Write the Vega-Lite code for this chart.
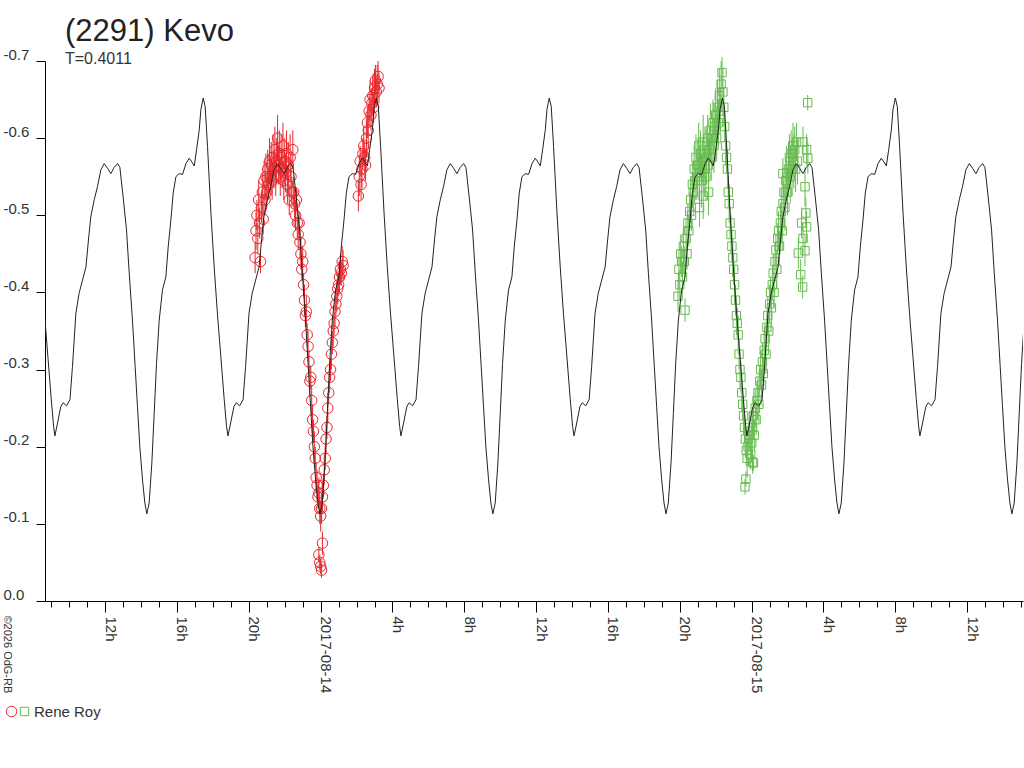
{
"$schema":"https://vega.github.io/schema/vega-lite/v6.json",
"autosize":"none",
"width":978,"height":540,
"padding":{"left":45,"top":61,"right":1,"bottom":167},
"background":"white",
"title":{"text":"(2291) Kevo","subtitle":"T=0.4011","anchor":"start","frame":"group","dx":20,"offset":-21,"font":"Liberation Sans","fontSize":31,"fontWeight":"normal","color":"#222","subtitleFont":"Liberation Sans","subtitleFontSize":16,"subtitleColor":"#333","subtitlePadding":3},
"config":{"view":{"stroke":null},"font":"Liberation Sans","axis":{"grid":false,"labelFont":"Liberation Sans","titleFont":"Liberation Sans","domainColor":"#000","tickColor":"#000","labelColor":"#333"}},
"datasets":{
"model":[
{"t":-15.38,"v":-0.373},{"t":-15.19,"v":-0.317},{"t":-15.0,"v":-0.261},{"t":-14.87,"v":-0.226},
{"t":-14.80,"v":-0.214},{"t":-14.65,"v":-0.231},{"t":-14.47,"v":-0.252},{"t":-14.34,"v":-0.257},{"t":-14.15,"v":-0.253},{"t":-13.96,"v":-0.261},{"t":-13.82,"v":-0.304},{"t":-13.63,"v":-0.373},{"t":-13.45,"v":-0.399},{"t":-13.26,"v":-0.416},{"t":-13.07,"v":-0.433},{"t":-12.93,"v":-0.468},{"t":-12.80,"v":-0.498},{"t":-12.61,"v":-0.520},{"t":-12.43,"v":-0.537},{"t":-12.24,"v":-0.559},{"t":-12.05,"v":-0.567},{"t":-11.87,"v":-0.561},{"t":-11.68,"v":-0.554},{"t":-11.50,"v":-0.562},{"t":-11.31,"v":-0.567},{"t":-11.18,"v":-0.562},{"t":-11.00,"v":-0.524},{"t":-10.81,"v":-0.481},{"t":-10.66,"v":-0.425},{"t":-10.48,"v":-0.364},{"t":-10.33,"v":-0.304},{"t":-10.20,"v":-0.252},{"t":-10.07,"v":-0.200},{"t":-9.92,"v":-0.157},{"t":-9.79,"v":-0.127},{"t":-9.68,"v":-0.113},{"t":-9.55,"v":-0.127},{"t":-9.40,"v":-0.179},{"t":-9.27,"v":-0.243},{"t":-9.14,"v":-0.308},{"t":-8.99,"v":-0.364},{"t":-8.81,"v":-0.403},{"t":-8.62,"v":-0.420},{"t":-8.49,"v":-0.459},{"t":-8.34,"v":-0.494},{"t":-8.21,"v":-0.529},{"t":-8.06,"v":-0.550},{"t":-7.88,"v":-0.554},{"t":-7.69,"v":-0.553},{"t":-7.50,"v":-0.567},{"t":-7.32,"v":-0.574},{"t":-7.17,"v":-0.569},{"t":-7.04,"v":-0.564},{"t":-6.91,"v":-0.585},{"t":-6.76,"v":-0.611},{"t":-6.67,"v":-0.637},{"t":-6.54,"v":-0.652},{"t":-6.43,"v":-0.641},{"t":-6.30,"v":-0.589},{"t":-6.11,"v":-0.503},{"t":-5.93,"v":-0.433},{"t":-5.75,"v":-0.373},{"t":-5.56,"v":-0.317},{"t":-5.37,"v":-0.261},{"t":-5.24,"v":-0.226},
{"t":-5.16,"v":-0.214},{"t":-5.01,"v":-0.231},{"t":-4.83,"v":-0.252},{"t":-4.70,"v":-0.257},{"t":-4.51,"v":-0.253},{"t":-4.32,"v":-0.261},{"t":-4.18,"v":-0.304},{"t":-3.99,"v":-0.373},{"t":-3.81,"v":-0.399},{"t":-3.62,"v":-0.416},{"t":-3.43,"v":-0.433},{"t":-3.29,"v":-0.468},{"t":-3.16,"v":-0.498},{"t":-2.97,"v":-0.520},{"t":-2.79,"v":-0.537},{"t":-2.60,"v":-0.559},{"t":-2.41,"v":-0.567},{"t":-2.23,"v":-0.561},{"t":-2.04,"v":-0.554},{"t":-1.86,"v":-0.562},{"t":-1.67,"v":-0.567},{"t":-1.54,"v":-0.562},{"t":-1.36,"v":-0.524},{"t":-1.17,"v":-0.481},{"t":-1.02,"v":-0.425},{"t":-0.84,"v":-0.364},{"t":-0.69,"v":-0.304},{"t":-0.56,"v":-0.252},{"t":-0.43,"v":-0.200},{"t":-0.28,"v":-0.157},{"t":-0.15,"v":-0.127},{"t":-0.04,"v":-0.113},{"t":0.09,"v":-0.127},{"t":0.24,"v":-0.179},{"t":0.37,"v":-0.243},{"t":0.50,"v":-0.308},{"t":0.65,"v":-0.364},{"t":0.83,"v":-0.403},{"t":1.02,"v":-0.420},{"t":1.15,"v":-0.459},{"t":1.30,"v":-0.494},{"t":1.43,"v":-0.529},{"t":1.58,"v":-0.550},{"t":1.76,"v":-0.554},{"t":1.95,"v":-0.553},{"t":2.14,"v":-0.567},{"t":2.32,"v":-0.574},{"t":2.47,"v":-0.569},{"t":2.60,"v":-0.564},{"t":2.73,"v":-0.585},{"t":2.88,"v":-0.611},{"t":2.97,"v":-0.637},{"t":3.10,"v":-0.652},{"t":3.21,"v":-0.641},{"t":3.34,"v":-0.589},{"t":3.53,"v":-0.503},{"t":3.71,"v":-0.433},{"t":3.89,"v":-0.373},{"t":4.08,"v":-0.317},{"t":4.27,"v":-0.261},{"t":4.40,"v":-0.226},
{"t":4.47,"v":-0.214},{"t":4.62,"v":-0.231},{"t":4.80,"v":-0.252},{"t":4.93,"v":-0.257},{"t":5.12,"v":-0.253},{"t":5.31,"v":-0.261},{"t":5.45,"v":-0.304},{"t":5.64,"v":-0.373},{"t":5.82,"v":-0.399},{"t":6.01,"v":-0.416},{"t":6.20,"v":-0.433},{"t":6.34,"v":-0.468},{"t":6.47,"v":-0.498},{"t":6.66,"v":-0.520},{"t":6.84,"v":-0.537},{"t":7.03,"v":-0.559},{"t":7.22,"v":-0.567},{"t":7.40,"v":-0.561},{"t":7.59,"v":-0.554},{"t":7.77,"v":-0.562},{"t":7.96,"v":-0.567},{"t":8.09,"v":-0.562},{"t":8.27,"v":-0.524},{"t":8.46,"v":-0.481},{"t":8.61,"v":-0.425},{"t":8.79,"v":-0.364},{"t":8.94,"v":-0.304},{"t":9.07,"v":-0.252},{"t":9.20,"v":-0.200},{"t":9.35,"v":-0.157},{"t":9.48,"v":-0.127},{"t":9.59,"v":-0.113},{"t":9.72,"v":-0.127},{"t":9.87,"v":-0.179},{"t":10.00,"v":-0.243},{"t":10.13,"v":-0.308},{"t":10.28,"v":-0.364},{"t":10.46,"v":-0.403},{"t":10.65,"v":-0.420},{"t":10.78,"v":-0.459},{"t":10.93,"v":-0.494},{"t":11.06,"v":-0.529},{"t":11.21,"v":-0.550},{"t":11.39,"v":-0.554},{"t":11.58,"v":-0.553},{"t":11.77,"v":-0.567},{"t":11.95,"v":-0.574},{"t":12.10,"v":-0.569},{"t":12.23,"v":-0.564},{"t":12.36,"v":-0.585},{"t":12.51,"v":-0.611},{"t":12.60,"v":-0.637},{"t":12.73,"v":-0.652},{"t":12.84,"v":-0.641},{"t":12.97,"v":-0.589},{"t":13.16,"v":-0.503},{"t":13.34,"v":-0.433},{"t":13.52,"v":-0.373},{"t":13.71,"v":-0.317},{"t":13.90,"v":-0.261},{"t":14.03,"v":-0.226},
{"t":14.11,"v":-0.214},{"t":14.26,"v":-0.231},{"t":14.44,"v":-0.252},{"t":14.57,"v":-0.257},{"t":14.76,"v":-0.253},{"t":14.95,"v":-0.261},{"t":15.09,"v":-0.304},{"t":15.28,"v":-0.373},{"t":15.46,"v":-0.399},{"t":15.65,"v":-0.416},{"t":15.84,"v":-0.433},{"t":15.98,"v":-0.468},{"t":16.11,"v":-0.498},{"t":16.30,"v":-0.520},{"t":16.48,"v":-0.537},{"t":16.67,"v":-0.559},{"t":16.86,"v":-0.567},{"t":17.04,"v":-0.561},{"t":17.23,"v":-0.554},{"t":17.41,"v":-0.562},{"t":17.60,"v":-0.567},{"t":17.73,"v":-0.562},{"t":17.91,"v":-0.524},{"t":18.10,"v":-0.481},{"t":18.25,"v":-0.425},{"t":18.43,"v":-0.364},{"t":18.58,"v":-0.304},{"t":18.71,"v":-0.252},{"t":18.84,"v":-0.200},{"t":18.99,"v":-0.157},{"t":19.12,"v":-0.127},{"t":19.23,"v":-0.113},{"t":19.36,"v":-0.127},{"t":19.51,"v":-0.179},{"t":19.64,"v":-0.243},{"t":19.77,"v":-0.308},{"t":19.92,"v":-0.364},{"t":20.10,"v":-0.403},{"t":20.29,"v":-0.420},{"t":20.42,"v":-0.459},{"t":20.57,"v":-0.494},{"t":20.70,"v":-0.529},{"t":20.85,"v":-0.550},{"t":21.03,"v":-0.554},{"t":21.22,"v":-0.553},{"t":21.41,"v":-0.567},{"t":21.59,"v":-0.574},{"t":21.74,"v":-0.569},{"t":21.87,"v":-0.564},{"t":22.00,"v":-0.585},{"t":22.15,"v":-0.611},{"t":22.24,"v":-0.637},{"t":22.37,"v":-0.652},{"t":22.48,"v":-0.641},{"t":22.61,"v":-0.589},{"t":22.80,"v":-0.503},{"t":22.98,"v":-0.433},{"t":23.16,"v":-0.373},{"t":23.35,"v":-0.317},{"t":23.54,"v":-0.261},{"t":23.67,"v":-0.226},
{"t":23.74,"v":-0.214},{"t":23.89,"v":-0.231},{"t":24.07,"v":-0.252},{"t":24.20,"v":-0.257},{"t":24.39,"v":-0.253},{"t":24.58,"v":-0.261},{"t":24.72,"v":-0.304},{"t":24.91,"v":-0.373},{"t":25.09,"v":-0.399},{"t":25.28,"v":-0.416},{"t":25.47,"v":-0.433},{"t":25.61,"v":-0.468},{"t":25.74,"v":-0.498},{"t":25.93,"v":-0.520},{"t":26.11,"v":-0.537},{"t":26.30,"v":-0.559},{"t":26.49,"v":-0.567},{"t":26.67,"v":-0.561},{"t":26.86,"v":-0.554},{"t":27.04,"v":-0.562},{"t":27.23,"v":-0.567},{"t":27.36,"v":-0.562},{"t":27.54,"v":-0.524},{"t":27.73,"v":-0.481},{"t":27.88,"v":-0.425},{"t":28.06,"v":-0.364},{"t":28.21,"v":-0.304},{"t":28.34,"v":-0.252},{"t":28.47,"v":-0.200},{"t":28.62,"v":-0.157},{"t":28.75,"v":-0.127},{"t":28.86,"v":-0.113},{"t":28.99,"v":-0.127},{"t":29.14,"v":-0.179},{"t":29.27,"v":-0.243},{"t":29.40,"v":-0.308},{"t":29.55,"v":-0.364},{"t":29.73,"v":-0.403},{"t":29.92,"v":-0.420},{"t":30.05,"v":-0.459},{"t":30.20,"v":-0.494},{"t":30.33,"v":-0.529},{"t":30.48,"v":-0.550},{"t":30.66,"v":-0.554},{"t":30.85,"v":-0.553},{"t":31.04,"v":-0.567},{"t":31.22,"v":-0.574},{"t":31.37,"v":-0.569},{"t":31.50,"v":-0.564},{"t":31.63,"v":-0.585},{"t":31.78,"v":-0.611},{"t":31.87,"v":-0.637},{"t":32.00,"v":-0.652},{"t":32.11,"v":-0.641},{"t":32.24,"v":-0.589},{"t":32.43,"v":-0.503},{"t":32.61,"v":-0.433},{"t":32.79,"v":-0.373},{"t":32.98,"v":-0.317},{"t":33.17,"v":-0.261},{"t":33.30,"v":-0.226},
{"t":33.37,"v":-0.214},{"t":33.52,"v":-0.231},{"t":33.70,"v":-0.252},{"t":33.83,"v":-0.257},{"t":34.02,"v":-0.253},{"t":34.21,"v":-0.261},{"t":34.35,"v":-0.304},{"t":34.54,"v":-0.373},{"t":34.72,"v":-0.399},{"t":34.91,"v":-0.416},{"t":35.10,"v":-0.433},{"t":35.24,"v":-0.468},{"t":35.37,"v":-0.498},{"t":35.56,"v":-0.520},{"t":35.74,"v":-0.537},{"t":35.93,"v":-0.559},{"t":36.12,"v":-0.567},{"t":36.30,"v":-0.561},{"t":36.49,"v":-0.554},{"t":36.67,"v":-0.562},{"t":36.86,"v":-0.567},{"t":36.99,"v":-0.562},{"t":37.17,"v":-0.524},{"t":37.36,"v":-0.481},{"t":37.51,"v":-0.425},{"t":37.69,"v":-0.364},{"t":37.84,"v":-0.304},{"t":37.97,"v":-0.252},{"t":38.10,"v":-0.200},{"t":38.25,"v":-0.157},{"t":38.38,"v":-0.127},{"t":38.49,"v":-0.113},{"t":38.62,"v":-0.127},{"t":38.77,"v":-0.179},{"t":38.90,"v":-0.243},{"t":39.03,"v":-0.308},{"t":39.18,"v":-0.364}
],
"obs":[
{"t":-3.65,"v":-0.445,"e":0.02,"s":"A"},{"t":-3.60,"v":-0.48,"e":0.025,"s":"A"},{"t":-3.55,"v":-0.50,"e":0.02,"s":"A"},{"t":-3.50,"v":-0.47,"e":0.02,"s":"A"},{"t":-3.45,"v":-0.52,"e":0.025,"s":"A"},{"t":-3.40,"v":-0.49,"e":0.02,"s":"A"},{"t":-3.35,"v":-0.44,"e":0.015,"s":"A"},{"t":-3.30,"v":-0.51,"e":0.02,"s":"A"},{"t":-3.25,"v":-0.53,"e":0.025,"s":"A"},{"t":-3.20,"v":-0.495,"e":0.02,"s":"A"},{"t":-3.15,"v":-0.545,"e":0.025,"s":"A"},{"t":-3.10,"v":-0.52,"e":0.02,"s":"A"},{"t":-3.05,"v":-0.55,"e":0.03,"s":"A"},{"t":-3.00,"v":-0.53,"e":0.02,"s":"A"},{"t":-2.95,"v":-0.56,"e":0.025,"s":"A"},{"t":-2.90,"v":-0.54,"e":0.02,"s":"A"},{"t":-2.85,"v":-0.57,"e":0.03,"s":"A"},{"t":-2.80,"v":-0.55,"e":0.025,"s":"A"},{"t":-2.75,"v":-0.565,"e":0.03,"s":"A"},{"t":-2.70,"v":-0.545,"e":0.025,"s":"A"},{"t":-2.65,"v":-0.575,"e":0.03,"s":"A"},{"t":-2.60,"v":-0.56,"e":0.025,"s":"A"},{"t":-2.55,"v":-0.585,"e":0.03,"s":"A"},{"t":-2.50,"v":-0.55,"e":0.025,"s":"A"},{"t":-2.45,"v":-0.57,"e":0.03,"s":"A"},{"t":-2.40,"v":-0.60,"e":0.03,"s":"A"},{"t":-2.35,"v":-0.565,"e":0.025,"s":"A"},{"t":-2.30,"v":-0.58,"e":0.03,"s":"A"},{"t":-2.25,"v":-0.55,"e":0.025,"s":"A"},{"t":-2.20,"v":-0.575,"e":0.03,"s":"A"},{"t":-2.15,"v":-0.56,"e":0.025,"s":"A"},{"t":-2.10,"v":-0.59,"e":0.03,"s":"A"},{"t":-2.05,"v":-0.545,"e":0.025,"s":"A"},{"t":-2.00,"v":-0.57,"e":0.03,"s":"A"},{"t":-1.95,"v":-0.555,"e":0.025,"s":"A"},{"t":-1.90,"v":-0.58,"e":0.03,"s":"A"},{"t":-1.85,"v":-0.54,"e":0.025,"s":"A"},{"t":-1.80,"v":-0.565,"e":0.03,"s":"A"},{"t":-1.75,"v":-0.52,"e":0.02,"s":"A"},{"t":-1.70,"v":-0.575,"e":0.03,"s":"A"},{"t":-1.65,"v":-0.55,"e":0.025,"s":"A"},{"t":-1.60,"v":-0.53,"e":0.02,"s":"A"},{"t":-1.55,"v":-0.585,"e":0.025,"s":"A"},
{"t":-1.50,"v":-0.53,"e":0.02,"s":"A"},{"t":-1.45,"v":-0.515,"e":0.02,"s":"A"},{"t":-1.40,"v":-0.50,"e":0.02,"s":"A"},{"t":-1.35,"v":-0.52,"e":0.015,"s":"A"},{"t":-1.30,"v":-0.49,"e":0.02,"s":"A"},{"t":-1.25,"v":-0.475,"e":0.02,"s":"A"},{"t":-1.20,"v":-0.49,"e":0.015,"s":"A"},{"t":-1.15,"v":-0.465,"e":0.02,"s":"A"},{"t":-1.10,"v":-0.45,"e":0.02,"s":"A"},{"t":-1.05,"v":-0.43,"e":0.015,"s":"A"},{"t":-1.00,"v":-0.44,"e":0.02,"s":"A"},{"t":-0.95,"v":-0.41,"e":0.015,"s":"A"},{"t":-0.90,"v":-0.39,"e":0.02,"s":"A"},{"t":-0.85,"v":-0.37,"e":0.015,"s":"A"},{"t":-0.80,"v":-0.375,"e":0.02,"s":"A"},{"t":-0.75,"v":-0.345,"e":0.015,"s":"A"},{"t":-0.70,"v":-0.33,"e":0.02,"s":"A"},{"t":-0.65,"v":-0.31,"e":0.015,"s":"A"},{"t":-0.60,"v":-0.285,"e":0.02,"s":"A"},{"t":-0.55,"v":-0.29,"e":0.015,"s":"A"},{"t":-0.50,"v":-0.26,"e":0.02,"s":"A"},{"t":-0.45,"v":-0.235,"e":0.02,"s":"A"},{"t":-0.40,"v":-0.22,"e":0.015,"s":"A"},{"t":-0.35,"v":-0.20,"e":0.02,"s":"A"},{"t":-0.30,"v":-0.185,"e":0.015,"s":"A"},{"t":-0.25,"v":-0.16,"e":0.02,"s":"A"},{"t":-0.20,"v":-0.15,"e":0.02,"s":"A"},{"t":-0.15,"v":-0.135,"e":0.015,"s":"A"},{"t":-0.10,"v":-0.14,"e":0.02,"s":"A"},{"t":-0.05,"v":-0.12,"e":0.02,"s":"A"},{"t":0.00,"v":-0.11,"e":0.02,"s":"A"},
{"t":-0.10,"v":-0.06,"e":0.01,"s":"A"},{"t":-0.05,"v":-0.05,"e":0.01,"s":"A"},{"t":0.00,"v":-0.045,"e":0.01,"s":"A"},{"t":0.05,"v":-0.04,"e":0.01,"s":"A"},{"t":0.10,"v":-0.075,"e":0.015,"s":"A"},
{"t":0.05,"v":-0.12,"e":0.02,"s":"A"},{"t":0.10,"v":-0.135,"e":0.02,"s":"A"},{"t":0.15,"v":-0.15,"e":0.015,"s":"A"},{"t":0.20,"v":-0.17,"e":0.02,"s":"A"},{"t":0.25,"v":-0.185,"e":0.015,"s":"A"},{"t":0.30,"v":-0.21,"e":0.02,"s":"A"},{"t":0.35,"v":-0.225,"e":0.015,"s":"A"},{"t":0.40,"v":-0.25,"e":0.02,"s":"A"},{"t":0.45,"v":-0.27,"e":0.015,"s":"A"},{"t":0.50,"v":-0.29,"e":0.02,"s":"A"},{"t":0.55,"v":-0.30,"e":0.015,"s":"A"},{"t":0.60,"v":-0.32,"e":0.02,"s":"A"},{"t":0.65,"v":-0.335,"e":0.015,"s":"A"},{"t":0.70,"v":-0.35,"e":0.02,"s":"A"},{"t":0.75,"v":-0.36,"e":0.015,"s":"A"},{"t":0.80,"v":-0.375,"e":0.02,"s":"A"},{"t":0.85,"v":-0.385,"e":0.015,"s":"A"},{"t":0.90,"v":-0.395,"e":0.02,"s":"A"},{"t":0.95,"v":-0.405,"e":0.02,"s":"A"},{"t":1.00,"v":-0.41,"e":0.015,"s":"A"},{"t":1.05,"v":-0.42,"e":0.02,"s":"A"},{"t":1.10,"v":-0.43,"e":0.02,"s":"A"},{"t":1.15,"v":-0.425,"e":0.015,"s":"A"},{"t":1.20,"v":-0.44,"e":0.02,"s":"A"},{"t":1.25,"v":-0.435,"e":0.02,"s":"A"},
{"t":2.10,"v":-0.525,"e":0.02,"s":"A"},{"t":2.15,"v":-0.55,"e":0.025,"s":"A"},{"t":2.20,"v":-0.57,"e":0.02,"s":"A"},{"t":2.25,"v":-0.54,"e":0.02,"s":"A"},{"t":2.30,"v":-0.56,"e":0.025,"s":"A"},{"t":2.35,"v":-0.58,"e":0.02,"s":"A"},{"t":2.40,"v":-0.59,"e":0.025,"s":"A"},{"t":2.45,"v":-0.575,"e":0.02,"s":"A"},{"t":2.50,"v":-0.565,"e":0.02,"s":"A"},{"t":2.55,"v":-0.60,"e":0.025,"s":"A"},{"t":2.60,"v":-0.62,"e":0.02,"s":"A"},{"t":2.65,"v":-0.61,"e":0.025,"s":"A"},{"t":2.70,"v":-0.635,"e":0.02,"s":"A"},{"t":2.75,"v":-0.65,"e":0.025,"s":"A"},{"t":2.80,"v":-0.63,"e":0.02,"s":"A"},{"t":2.85,"v":-0.645,"e":0.02,"s":"A"},{"t":2.90,"v":-0.655,"e":0.025,"s":"A"},{"t":2.95,"v":-0.64,"e":0.02,"s":"A"},{"t":3.00,"v":-0.665,"e":0.025,"s":"A"},{"t":3.05,"v":-0.675,"e":0.02,"s":"A"},{"t":3.10,"v":-0.66,"e":0.02,"s":"A"},{"t":3.15,"v":-0.67,"e":0.025,"s":"A"},{"t":3.20,"v":-0.68,"e":0.02,"s":"A"},{"t":3.25,"v":-0.665,"e":0.02,"s":"A"},
{"t":19.90,"v":-0.395,"e":0.02,"s":"B"},{"t":19.95,"v":-0.43,"e":0.025,"s":"B"},{"t":20.00,"v":-0.41,"e":0.02,"s":"B"},{"t":20.05,"v":-0.45,"e":0.025,"s":"B"},{"t":20.10,"v":-0.44,"e":0.02,"s":"B"},{"t":20.15,"v":-0.42,"e":0.02,"s":"B"},{"t":20.20,"v":-0.46,"e":0.025,"s":"B"},{"t":20.25,"v":-0.44,"e":0.02,"s":"B"},{"t":20.29,"v":-0.377,"e":0.015,"s":"B"},{"t":20.35,"v":-0.47,"e":0.025,"s":"B"},{"t":20.40,"v":-0.45,"e":0.02,"s":"B"},{"t":20.45,"v":-0.49,"e":0.025,"s":"B"},{"t":20.50,"v":-0.48,"e":0.02,"s":"B"},{"t":20.55,"v":-0.505,"e":0.025,"s":"B"},{"t":20.60,"v":-0.52,"e":0.03,"s":"B"},{"t":20.65,"v":-0.50,"e":0.02,"s":"B"},{"t":20.70,"v":-0.54,"e":0.03,"s":"B"},{"t":20.75,"v":-0.53,"e":0.025,"s":"B"},{"t":20.80,"v":-0.56,"e":0.03,"s":"B"},{"t":20.85,"v":-0.545,"e":0.025,"s":"B"},{"t":20.90,"v":-0.575,"e":0.03,"s":"B"},{"t":20.95,"v":-0.55,"e":0.03,"s":"B"},
{"t":21.00,"v":-0.565,"e":0.035,"s":"B"},{"t":21.05,"v":-0.59,"e":0.03,"s":"B"},{"t":21.10,"v":-0.51,"e":0.025,"s":"B"},{"t":21.10,"v":-0.555,"e":0.035,"s":"B"},{"t":21.15,"v":-0.58,"e":0.03,"s":"B"},{"t":21.20,"v":-0.545,"e":0.035,"s":"B"},{"t":21.25,"v":-0.57,"e":0.03,"s":"B"},{"t":21.30,"v":-0.525,"e":0.03,"s":"B"},{"t":21.30,"v":-0.595,"e":0.035,"s":"B"},{"t":21.35,"v":-0.56,"e":0.03,"s":"B"},{"t":21.40,"v":-0.58,"e":0.035,"s":"B"},{"t":21.45,"v":-0.55,"e":0.03,"s":"B"},{"t":21.50,"v":-0.575,"e":0.035,"s":"B"},{"t":21.55,"v":-0.60,"e":0.03,"s":"B"},{"t":21.60,"v":-0.53,"e":0.03,"s":"B"},{"t":21.60,"v":-0.565,"e":0.035,"s":"B"},{"t":21.65,"v":-0.585,"e":0.03,"s":"B"},{"t":21.70,"v":-0.61,"e":0.035,"s":"B"},{"t":21.75,"v":-0.575,"e":0.03,"s":"B"},{"t":21.80,"v":-0.60,"e":0.035,"s":"B"},{"t":21.85,"v":-0.62,"e":0.03,"s":"B"},{"t":21.90,"v":-0.59,"e":0.035,"s":"B"},{"t":21.95,"v":-0.615,"e":0.03,"s":"B"},{"t":22.00,"v":-0.63,"e":0.035,"s":"B"},{"t":22.05,"v":-0.60,"e":0.03,"s":"B"},{"t":22.10,"v":-0.64,"e":0.035,"s":"B"},{"t":22.15,"v":-0.62,"e":0.03,"s":"B"},{"t":22.20,"v":-0.655,"e":0.035,"s":"B"},{"t":22.25,"v":-0.635,"e":0.03,"s":"B"},{"t":22.30,"v":-0.67,"e":0.03,"s":"B"},{"t":22.35,"v":-0.685,"e":0.02,"s":"B"},{"t":22.40,"v":-0.66,"e":0.03,"s":"B"},{"t":22.45,"v":-0.64,"e":0.025,"s":"B"},
{"t":22.50,"v":-0.615,"e":0.02,"s":"B"},{"t":22.55,"v":-0.59,"e":0.025,"s":"B"},{"t":22.60,"v":-0.575,"e":0.02,"s":"B"},{"t":22.65,"v":-0.56,"e":0.025,"s":"B"},{"t":22.70,"v":-0.53,"e":0.02,"s":"B"},{"t":22.75,"v":-0.515,"e":0.025,"s":"B"},{"t":22.80,"v":-0.49,"e":0.02,"s":"B"},{"t":22.85,"v":-0.475,"e":0.025,"s":"B"},{"t":22.90,"v":-0.46,"e":0.02,"s":"B"},{"t":22.95,"v":-0.445,"e":0.025,"s":"B"},{"t":23.00,"v":-0.43,"e":0.02,"s":"B"},{"t":23.05,"v":-0.41,"e":0.025,"s":"B"},{"t":23.10,"v":-0.39,"e":0.02,"s":"B"},{"t":23.15,"v":-0.37,"e":0.025,"s":"B"},{"t":23.20,"v":-0.36,"e":0.02,"s":"B"},{"t":23.25,"v":-0.345,"e":0.025,"s":"B"},{"t":23.30,"v":-0.32,"e":0.02,"s":"B"},{"t":23.35,"v":-0.30,"e":0.025,"s":"B"},{"t":23.40,"v":-0.29,"e":0.02,"s":"B"},{"t":23.45,"v":-0.27,"e":0.025,"s":"B"},{"t":23.50,"v":-0.255,"e":0.02,"s":"B"},{"t":23.55,"v":-0.24,"e":0.025,"s":"B"},{"t":23.60,"v":-0.225,"e":0.02,"s":"B"},{"t":23.65,"v":-0.21,"e":0.025,"s":"B"},{"t":23.70,"v":-0.195,"e":0.02,"s":"B"},{"t":23.75,"v":-0.185,"e":0.025,"s":"B"},
{"t":23.63,"v":-0.148,"e":0.01,"s":"B"},{"t":23.68,"v":-0.158,"e":0.01,"s":"B"},{"t":24.10,"v":-0.179,"e":0.01,"s":"B"},{"t":24.05,"v":-0.18,"e":0.015,"s":"B"},{"t":23.80,"v":-0.20,"e":0.025,"s":"B"},{"t":23.85,"v":-0.215,"e":0.02,"s":"B"},{"t":23.90,"v":-0.22,"e":0.025,"s":"B"},{"t":23.95,"v":-0.19,"e":0.02,"s":"B"},{"t":24.00,"v":-0.205,"e":0.025,"s":"B"},
{"t":24.05,"v":-0.225,"e":0.02,"s":"B"},{"t":24.10,"v":-0.24,"e":0.025,"s":"B"},{"t":24.15,"v":-0.215,"e":0.02,"s":"B"},{"t":24.20,"v":-0.25,"e":0.025,"s":"B"},{"t":24.25,"v":-0.235,"e":0.02,"s":"B"},{"t":24.30,"v":-0.26,"e":0.025,"s":"B"},{"t":24.35,"v":-0.27,"e":0.02,"s":"B"},{"t":24.40,"v":-0.255,"e":0.025,"s":"B"},{"t":24.45,"v":-0.285,"e":0.02,"s":"B"},{"t":24.50,"v":-0.30,"e":0.025,"s":"B"},{"t":24.55,"v":-0.28,"e":0.02,"s":"B"},{"t":24.60,"v":-0.31,"e":0.025,"s":"B"},{"t":24.65,"v":-0.295,"e":0.02,"s":"B"},{"t":24.70,"v":-0.325,"e":0.025,"s":"B"},{"t":24.75,"v":-0.34,"e":0.02,"s":"B"},{"t":24.80,"v":-0.32,"e":0.025,"s":"B"},{"t":24.85,"v":-0.355,"e":0.02,"s":"B"},{"t":24.90,"v":-0.37,"e":0.025,"s":"B"},{"t":24.95,"v":-0.35,"e":0.02,"s":"B"},{"t":25.00,"v":-0.385,"e":0.025,"s":"B"},{"t":25.05,"v":-0.40,"e":0.02,"s":"B"},{"t":25.10,"v":-0.38,"e":0.025,"s":"B"},{"t":25.15,"v":-0.41,"e":0.02,"s":"B"},{"t":25.20,"v":-0.425,"e":0.025,"s":"B"},{"t":25.25,"v":-0.40,"e":0.02,"s":"B"},{"t":25.30,"v":-0.44,"e":0.025,"s":"B"},{"t":25.35,"v":-0.455,"e":0.02,"s":"B"},{"t":25.40,"v":-0.43,"e":0.025,"s":"B"},{"t":25.45,"v":-0.47,"e":0.02,"s":"B"},{"t":25.50,"v":-0.48,"e":0.025,"s":"B"},{"t":25.55,"v":-0.46,"e":0.02,"s":"B"},{"t":25.60,"v":-0.49,"e":0.025,"s":"B"},{"t":25.65,"v":-0.505,"e":0.03,"s":"B"},{"t":25.70,"v":-0.48,"e":0.025,"s":"B"},{"t":25.74,"v":-0.554,"e":0.02,"s":"B"},{"t":25.75,"v":-0.515,"e":0.03,"s":"B"},{"t":25.80,"v":-0.53,"e":0.025,"s":"B"},{"t":25.85,"v":-0.51,"e":0.03,"s":"B"},{"t":25.90,"v":-0.545,"e":0.03,"s":"B"},{"t":25.95,"v":-0.555,"e":0.035,"s":"B"},{"t":26.00,"v":-0.53,"e":0.03,"s":"B"},{"t":26.05,"v":-0.56,"e":0.035,"s":"B"},{"t":26.10,"v":-0.575,"e":0.03,"s":"B"},{"t":26.15,"v":-0.55,"e":0.035,"s":"B"},{"t":26.20,"v":-0.58,"e":0.03,"s":"B"},{"t":26.25,"v":-0.56,"e":0.035,"s":"B"},{"t":26.30,"v":-0.59,"e":0.03,"s":"B"},{"t":26.35,"v":-0.57,"e":0.035,"s":"B"},{"t":26.40,"v":-0.585,"e":0.03,"s":"B"},{"t":26.45,"v":-0.56,"e":0.03,"s":"B"},{"t":26.50,"v":-0.595,"e":0.025,"s":"B"},{"t":26.55,"v":-0.57,"e":0.03,"s":"B"},
{"t":26.60,"v":-0.451,"e":0.02,"s":"B"},{"t":26.73,"v":-0.423,"e":0.02,"s":"B"},{"t":26.78,"v":-0.49,"e":0.02,"s":"B"},{"t":26.84,"v":-0.407,"e":0.015,"s":"B"},{"t":26.86,"v":-0.47,"e":0.02,"s":"B"},{"t":26.86,"v":-0.595,"e":0.02,"s":"B"},{"t":26.97,"v":-0.454,"e":0.02,"s":"B"},{"t":26.97,"v":-0.537,"e":0.025,"s":"B"},{"t":27.02,"v":-0.503,"e":0.02,"s":"B"},{"t":27.06,"v":-0.485,"e":0.02,"s":"B"},{"t":27.06,"v":-0.585,"e":0.02,"s":"B"},{"t":27.13,"v":-0.574,"e":0.02,"s":"B"},{"t":27.12,"v":-0.646,"e":0.01,"s":"B"}
]
},
"encoding":{
"x":{"field":"t","type":"quantitative","scale":{"domain":[-15.35,39.11],"nice":false,"zero":false},
"axis":{"title":null,"values":[-15,-14,-13,-12,-11,-10,-9,-8,-7,-6,-5,-4,-3,-2,-1,0,1,2,3,4,5,6,7,8,9,10,11,12,13,14,15,16,17,18,19,20,21,22,23,24,25,26,27,28,29,30,31,32,33,34,35,36,37,38,39],
"labelExpr":"datum.value % 4 != 0 ? '' : (datum.value == 0 ? '2017-08-14' : (datum.value == 24 ? '2017-08-15' : ((datum.value + 48) % 24) + 'h'))",
"labelAngle":90,"labelAlign":"left","labelBaseline":"alphabetic","labelPadding":4,"labelFontSize":15,"labelOverlap":false,"labelBound":false,"labelFlush":false,
"tickSize":{"condition":{"test":"datum.value % 4 == 0","value":11},"value":6}}},
"y":{"field":"v","type":"quantitative","scale":{"domain":[-0.7,0],"reverse":true,"nice":false,"zero":false},
"axis":{"title":"©2026 OdG-RB","titleAngle":90,"titleX":-44,"titleY":554,"titleAlign":"left","titleBaseline":"bottom","titleFontSize":11,"titleFontWeight":"normal","titleColor":"#333",
"values":[-0.7,-0.6,-0.5,-0.4,-0.3,-0.2,-0.1,0],"labelExpr":"replace(format(datum.value, '.1f'), '\u2212', '-')","tickSize":9,"labelAlign":"left","labelBaseline":"alphabetic","labelPadding":33,"labelOffset":-2,"labelFontSize":15}}
},
"layer":[
{"data":{"name":"obs"},"transform":[{"filter":"datum.s == 'A'"}],"mark":{"type":"errorbar","color":"#e8262b","thickness":1},"encoding":{"yError":{"field":"e"}}},
{"data":{"name":"obs"},"transform":[{"filter":"datum.s == 'B'"}],"mark":{"type":"errorbar","color":"#66bb4f","thickness":1},"encoding":{"yError":{"field":"e"}}},
{"data":{"name":"obs"},"mark":{"type":"point","filled":false,"strokeWidth":1,"opacity":1},
"encoding":{
"color":{"field":"s","type":"nominal","scale":{"domain":["A","B"],"range":["#e8262b","#66bb4f"]},
"legend":{"title":null,"orient":"none","legendX":-41,"legendY":643,"direction":"horizontal","gridAlign":"none","labelExpr":"datum.label == 'A' ? '' : 'Rene Roy'","labelFontSize":15,"labelColor":"#333","labelFont":"Liberation Sans","symbolSize":70,"symbolStrokeWidth":1,"symbolOpacity":1,"labelOffset":2,"columnPadding":-4}},
"shape":{"field":"s","type":"nominal","scale":{"domain":["A","B"],"range":["circle","square"]},
"legend":{"title":null,"orient":"none","legendX":-41,"legendY":643,"direction":"horizontal","gridAlign":"none","labelExpr":"datum.label == 'A' ? '' : 'Rene Roy'","labelFontSize":15,"labelColor":"#333","labelFont":"Liberation Sans","symbolSize":70,"symbolStrokeWidth":1,"symbolOpacity":1,"labelOffset":2,"columnPadding":-4}},
"size":{"field":"s","type":"ordinal","scale":{"domain":["A","B"],"range":[110,70]},"legend":null}}},
{"data":{"name":"model"},"mark":{"type":"line","color":"#222","strokeWidth":1,"clip":true},"encoding":{}}
]
}
